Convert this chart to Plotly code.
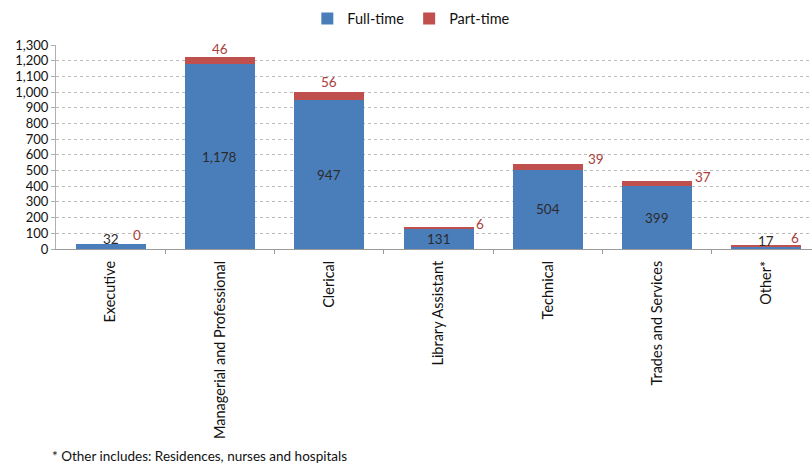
import plotly.graph_objects as go

categories = ["Executive", "Managerial and Professional", "Clerical", "Library Assistant",
              "Technical", "Trades and Services", "Other*"]
full_time = [32, 1178, 947, 131, 504, 399, 17]
part_time = [0, 46, 56, 6, 39, 37, 6]
y_ticks = list(range(0, 1301, 100))

BLUE = "#4A7EBB"
RED = "#C0504D"
FONT = "Lato"

xi = list(range(len(categories)))

fig = go.Figure()
fig.add_trace(go.Bar(x=xi, y=full_time, name="Full-time", marker_color=BLUE,
                     width=0.64, marker_line_width=0))
fig.add_trace(go.Bar(x=xi, y=part_time, name="Part-time", marker_color=RED,
                     width=0.64, marker_line_width=0))

# label placement offsets (pixels) - style, not data
pt_dx = [26, 0, 0, 41, 48, 46, 29]
pt_dy = [9, 8, 10, 4, 5, 4, 7]
ft_above = [True, False, False, False, False, False, True]

for i, (f, p) in enumerate(zip(full_time, part_time)):
    if ft_above[i]:
        fig.add_annotation(x=i, y=f, text=f"{f:,}", showarrow=False, yanchor="middle",
                           yshift=5, font=dict(family=FONT, size=13.5, color="#2b2b2b"))
    else:
        fig.add_annotation(x=i, y=f / 2, text=f"{f:,}", showarrow=False, yanchor="middle",
                           font=dict(family=FONT, size=13.5, color="#2b2b2b"))
    fig.add_annotation(x=i, y=f + p, text=f"{p:,}", showarrow=False, yanchor="middle",
                       xshift=pt_dx[i], yshift=pt_dy[i],
                       font=dict(family=FONT, size=13.5, color="#A8403C"))

fig.add_annotation(xref="paper", yref="paper", x=-0.008, y=-1.017, xanchor="left",
                   yanchor="middle", showarrow=False,
                   text="* Other includes: Residences, nurses and hospitals",
                   font=dict(family=FONT, size=13.5, color="#111"))

fig.update_layout(
    width=812, height=465,
    margin=dict(l=56, r=0, t=45, b=216),
    barmode="stack",
    plot_bgcolor="white", paper_bgcolor="white",
    font=dict(family=FONT, color="#111"),
    showlegend=True,
    legend=dict(orientation="h", x=0.47, xanchor="center", y=1.13, yanchor="middle",
                font=dict(family=FONT, size=14.5, color="#111"), traceorder="normal",
                itemwidth=30, itemsizing="constant", bgcolor="rgba(0,0,0,0)"),
    xaxis=dict(range=[-0.5, 6.417], tickmode="array", tickvals=xi, ticktext=categories,
               tickangle=-90, tickfont=dict(family=FONT, size=14.5, color="#111"),
               ticklabelstandoff=5,
               showgrid=False, showline=True, linecolor="#9a9a9a", linewidth=1,
               ticks="", zeroline=False),
    yaxis=dict(range=[0, 1300], tickmode="array", tickvals=y_ticks, tickformat=",d",
               tickfont=dict(family=FONT, size=13, color="#111"),
               showgrid=True, gridcolor="#bdbdbd", griddash="dot", gridwidth=1,
               showline=True, linecolor="#b0b0b0", linewidth=1,
               ticks="outside", ticklen=4, tickcolor="#b0b0b0", zeroline=False),
)

# x ticks at category boundaries via minor ticks
fig.update_xaxes(minor=dict(tickvals=[i + 0.5 for i in xi[:-1]], ticks="outside",
                            ticklen=4, tickcolor="#9a9a9a"))

fig.write_html("out.html")
